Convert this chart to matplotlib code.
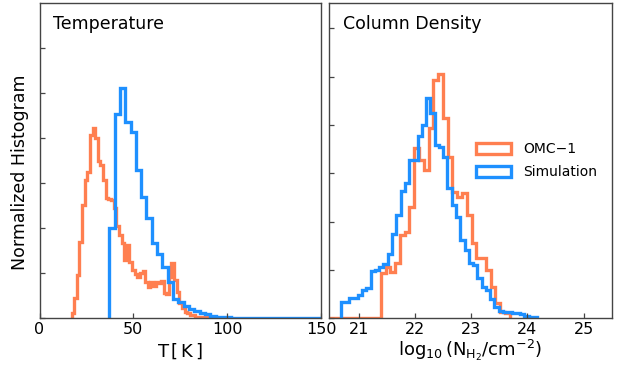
import numpy as np
import matplotlib
matplotlib.use("Agg")
import matplotlib.pyplot as plt
from matplotlib.patches import Patch

plt.rcParams["font.family"] = ["DejaVu Sans"]
plt.rcParams["mathtext.default"] = "regular"

ORANGE = "#ff7f50"
BLUE = "#1e90ff"
LW = 2.4

# Temperature histograms (K) -- heights in y-tick units
omc_t_start, omc_t_width = 17.1, 1.4
omc_t = [0.12, 0.45, 0.96, 1.70, 2.52, 3.07, 3.26, 4.07, 4.22, 4.00,
         3.50, 3.41, 3.08, 2.68, 2.66, 2.62, 2.45, 2.05, 1.85, 1.67,
         1.30, 1.62, 1.25, 1.07, 0.98, 0.92, 1.00, 1.06, 0.80, 0.70,
         0.80, 0.72, 0.80, 0.78, 0.82, 0.56, 0.55, 0.92, 1.22, 0.85,
         0.58, 0.33, 0.22, 0.13, 0.12, 0.07, 0.07, 0.04, 0.04, 0.03,
         0.03, 0.02, 0.02, 0.01, 0.01]

sim_t_start, sim_t_width = 37.2, 2.83
sim_t = [2.00, 4.53, 5.11, 4.36, 4.13, 3.30, 2.69, 2.24, 1.68, 1.43,
         1.14, 0.80, 0.44, 0.36, 0.27, 0.20, 0.17, 0.12, 0.09, 0.06,
         0.04, 0.03, 0.02, 0.015, 0.01, 0.01, 0.005, 0.005, 0, 0,
         0, 0, 0, 0, 0, 0, 0, 0, 0, 0]

# Column density histograms, log10 N(H2)
omc_n_start, omc_n_width = 20.459, 0.085
omc_n = [0, 0, 0, 0, 0, 0, 0, 0, 0, 0,
         0, 0.93, 1.07, 0.96, 1.14, 1.72, 1.79, 2.31, 3.52, 3.28,
         3.07, 3.93, 4.93, 5.05, 4.14, 3.34, 2.62, 2.52, 2.59, 2.14,
         1.55, 1.24, 1.24, 1.00, 0.65, 0.31, 0.14, 0.10]

sim_n_start, sim_n_width = 20.683, 0.0759
sim_n = [0.34, 0.34, 0.43, 0.43, 0.48, 0.59, 0.63, 0.98, 1.00, 1.07,
         1.12, 1.34, 1.74, 2.14, 2.63, 2.81, 3.28, 3.28, 3.77, 4.00,
         4.57, 4.24, 3.58, 3.54, 3.34, 2.69, 2.34, 2.10, 1.62, 1.41,
         1.14, 1.10, 0.83, 0.65, 0.59, 0.41, 0.23, 0.16, 0.14, 0.14,
         0.10, 0.10, 0.08, 0.05, 0.03, 0.03]


def edges(start, width, vals):
    return start + width * np.arange(len(vals) + 1)


fig = plt.figure(figsize=(6.25, 3.65), dpi=100)
ax1 = fig.add_axes([0.0632, 0.1279, 0.4504, 0.863])
ax2 = fig.add_axes([0.5269, 0.1279, 0.4518, 0.863])

ax1.stairs(omc_t, edges(omc_t_start, omc_t_width, omc_t), color=ORANGE, lw=LW)
ax1.stairs(sim_t, edges(sim_t_start, sim_t_width, sim_t), color=BLUE, lw=LW)
ax2.stairs(omc_n, edges(omc_n_start, omc_n_width, omc_n), color=ORANGE, lw=LW)
ax2.stairs(sim_n, edges(sim_n_start, sim_n_width, sim_n), color=BLUE, lw=LW)

ax1.set_xlim(0, 150)
ax1.set_ylim(0, 7.0)
ax1.set_xticks([0, 50, 100, 150])
ax2.set_xlim(20.48, 25.5)
ax2.set_ylim(0, 6.52)
ax2.set_xticks([21, 22, 23, 24, 25])

for ax in (ax1, ax2):
    ax.set_yticks(range(7))
    ax.set_yticklabels([])
    ax.tick_params(direction="in", length=3.5, width=0.9, pad=3,
                   labelsize=11.5, color="#444444")
    for s in ax.spines.values():
        s.set_color("#444444")
        s.set_linewidth(1.0)

ax1.text(0.047, 0.917, "Temperature", transform=ax1.transAxes, fontsize=12.5)
ax2.text(0.047, 0.917, "Column Density", transform=ax2.transAxes, fontsize=12.5)

fig.text(180 / 625, 1 - 351 / 365, r"T$\,\left[\,K\,\right]$",
         ha="center", va="center", fontsize=13)
fig.text(470 / 625, 1 - 350 / 365, r"$\log_{10}(N_{H_2}/cm^{-2})$",
         ha="center", va="center", fontsize=13)
fig.text(20 / 625, 1 - 172 / 365, "Normalized Histogram", rotation=90,
         ha="center", va="center", fontsize=12.5)

handles = [Patch(facecolor="none", edgecolor=ORANGE, lw=LW, label="OMC\u22121"),
           Patch(facecolor="none", edgecolor=BLUE, lw=LW, label="Simulation")]
ax2.legend(handles=handles, loc="center left", bbox_to_anchor=(0.495, 0.50),
           frameon=False, fontsize=10, borderpad=0, handlelength=2.5,
           handleheight=0.85, handletextpad=0.9, labelspacing=0.65)

fig.savefig("out.png", dpi=100)
